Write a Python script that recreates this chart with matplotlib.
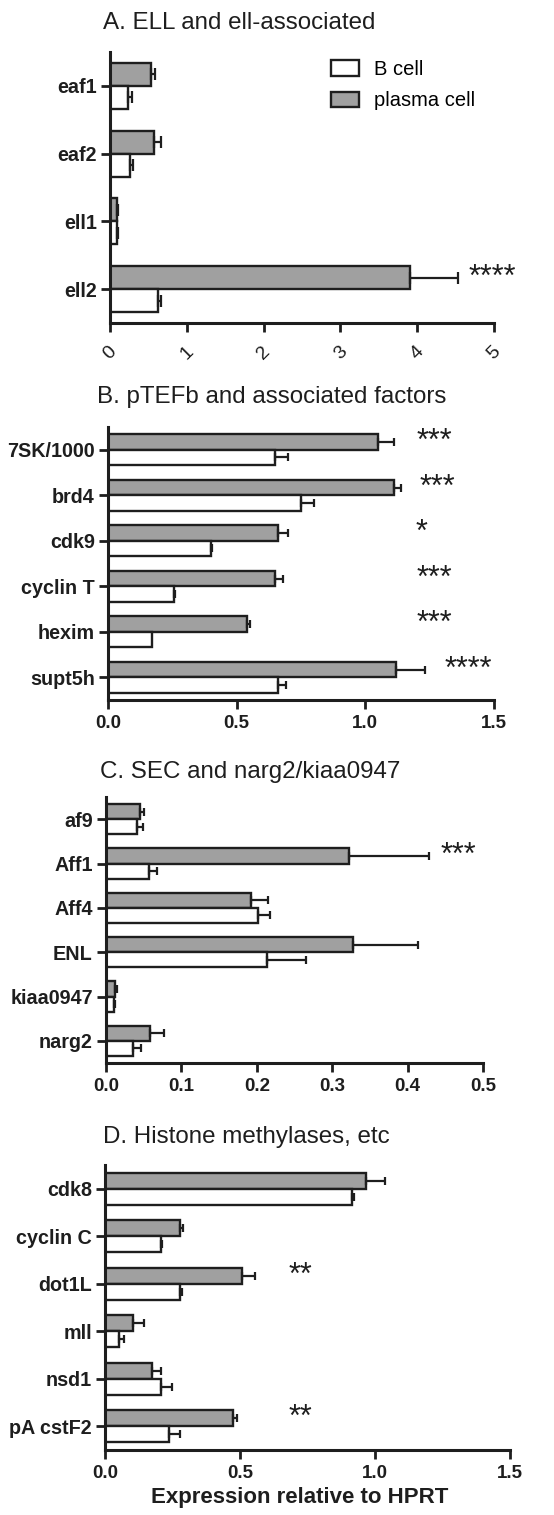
import matplotlib
matplotlib.use('Agg')
import matplotlib.pyplot as plt

plt.rcParams['font.family'] = ['Liberation Sans', 'DejaVu Sans']

W, H = 554, 1515
DARK = '#1e1e1e'
GREY = '#a0a0a0'

# A. ELL and ell-associated
genes_a = ['eaf1', 'eaf2', 'ell1', 'ell2']
plasma_a = [0.54, 0.57, 0.095, 3.91]
plasma_a_err = [0.05, 0.09, 0.015, 0.62]
bcell_a = [0.23, 0.26, 0.087, 0.62]
bcell_a_err = [0.05, 0.04, 0.02, 0.04]
stars_a = [(3, '****', 4.98)]

# B. pTEFb and associated factors
genes_b = ['7SK/1000', 'brd4', 'cdk9', 'cyclin T', 'hexim', 'supt5h']
plasma_b = [1.05, 1.11, 0.66, 0.65, 0.54, 1.12]
plasma_b_err = [0.06, 0.03, 0.04, 0.03, 0.012, 0.11]
bcell_b = [0.65, 0.75, 0.40, 0.255, 0.17, 0.66]
bcell_b_err = [0.05, 0.05, 0.006, 0.005, 0.0, 0.03]
stars_b = [(0, '***', 1.27), (1, '***', 1.28), (2, '*', 1.22),
           (3, '***', 1.27), (4, '***', 1.27), (5, '****', 1.40)]

# C. SEC and narg2/kiaa0947
genes_c = ['af9', 'Aff1', 'Aff4', 'ENL', 'kiaa0947', 'narg2']
plasma_c = [0.045, 0.322, 0.192, 0.327, 0.012, 0.059]
plasma_c_err = [0.005, 0.107, 0.023, 0.087, 0.002, 0.018]
bcell_c = [0.041, 0.057, 0.201, 0.213, 0.011, 0.036]
bcell_c_err = [0.008, 0.011, 0.016, 0.052, 0.001, 0.011]
stars_c = [(1, '***', 0.4675)]

# D. Histone methylases, etc
genes_d = ['cdk8', 'cyclin C', 'dot1L', 'mll', 'nsd1', 'pA cstF2']
plasma_d = [0.965, 0.278, 0.506, 0.105, 0.175, 0.473]
plasma_d_err = [0.072, 0.01, 0.05, 0.039, 0.034, 0.017]
bcell_d = [0.916, 0.206, 0.278, 0.053, 0.206, 0.236]
bcell_d_err = [0.007, 0.006, 0.006, 0.017, 0.043, 0.042]
stars_d = [(2, '**', 0.722), (5, '**', 0.722)]

fig = plt.figure(figsize=(W / 100, H / 100), dpi=100)


def px_axes(left, top, right, bottom):
    return fig.add_axes([left / W, 1 - bottom / H, (right - left) / W, (bottom - top) / H])


def panel(box, genes, plasma, plasma_err, bcell, bcell_err, stars, xmax, xticks,
          xfmt, title, title_xy, cap, rotate=False):
    ax = px_axes(*box)
    h = 0.34
    ys = list(range(len(genes)))
    yp = [y - h / 2 for y in ys]
    yb = [y + h / 2 for y in ys]
    pb = ax.barh(yp, plasma, height=h, color=GREY, edgecolor=DARK, linewidth=1.7, zorder=2)
    bb = ax.barh(yb, bcell, height=h, color='white', edgecolor=DARK, linewidth=1.7, zorder=2)
    for yy, vals, errs in ((yp, plasma, plasma_err), (yb, bcell, bcell_err)):
        for y, v, e in zip(yy, vals, errs):
            if e <= 0:
                continue
            ax.errorbar(v, y, xerr=[[0], [e]], fmt='none', ecolor=DARK,
                        elinewidth=1.6, capsize=cap, capthick=1.6, zorder=3)
    for i, s, x in stars:
        ax.text(x, i - h / 2, s, ha='center', va='center', fontsize=22, color=DARK,
                clip_on=False)
    ax.set_ylim(len(genes) - 0.5, -0.5)
    ax.set_xlim(0, xmax)
    ax.set_yticks(ys)
    ax.set_yticklabels(genes, fontsize=14.2, fontweight='bold', color=DARK)
    ax.set_xticks(xticks)
    if rotate:
        ax.set_xticklabels([xfmt.format(t) for t in xticks], fontsize=14,
                           rotation=45, ha='center', va='top', color=DARK)
    else:
        ax.set_xticklabels([xfmt.format(t) for t in xticks], fontsize=13.5,
                           fontweight='bold', color=DARK)
    for side in ('top', 'right'):
        ax.spines[side].set_visible(False)
    for side in ('left', 'bottom'):
        ax.spines[side].set_linewidth(2.2)
        ax.spines[side].set_color(DARK)
    ax.tick_params(axis='both', length=6.5, width=2, color=DARK, pad=3)
    ax.tick_params(axis='x', pad=8 if rotate else 4.5)
    fig.text(title_xy[0] / W, 1 - title_xy[1] / H, title, fontsize=17.4,
             ha='left', va='center', color=DARK)
    return ax, pb, bb


ax_a, pb, bb = panel((110, 52, 494, 323), genes_a, plasma_a, plasma_a_err, bcell_a,
                     bcell_a_err, stars_a, 5, [0, 1, 2, 3, 4, 5], '{:g}',
                     'A. ELL and ell-associated', (103, 23), 4.3, rotate=True)
ax_a.legend([bb, pb], ['B cell', 'plasma cell'], loc='upper left',
            bbox_to_anchor=(331 / W, 1 - 60 / H), bbox_transform=fig.transFigure,
            frameon=False, fontsize=14.5, handlelength=1.4, handleheight=0.78,
            handletextpad=0.75, labelspacing=0.6, borderpad=0, borderaxespad=0)

panel((108, 427, 494, 700), genes_b, plasma_b, plasma_b_err, bcell_b, bcell_b_err,
      stars_b, 1.5, [0, 0.5, 1.0, 1.5], '{:.1f}',
      'B. pTEFb and associated factors', (97, 397), 3)

panel((106, 797, 483, 1063), genes_c, plasma_c, plasma_c_err, bcell_c, bcell_c_err,
      stars_c, 0.5, [0, 0.1, 0.2, 0.3, 0.4, 0.5], '{:.1f}',
      'C. SEC and narg2/kiaa0947', (100, 772), 3)

ax_d, _, _ = panel((105, 1165, 510, 1450), genes_d, plasma_d, plasma_d_err, bcell_d,
                   bcell_d_err, stars_d, 1.5, [0, 0.5, 1.0, 1.5], '{:.1f}',
                   'D. Histone methylases, etc', (103, 1137), 3)
fig.text(300 / W, 1 - 1497 / H, 'Expression relative to HPRT', fontsize=16,
         fontweight='bold', ha='center', va='center', color=DARK)

fig.savefig('out.png', dpi=100)
